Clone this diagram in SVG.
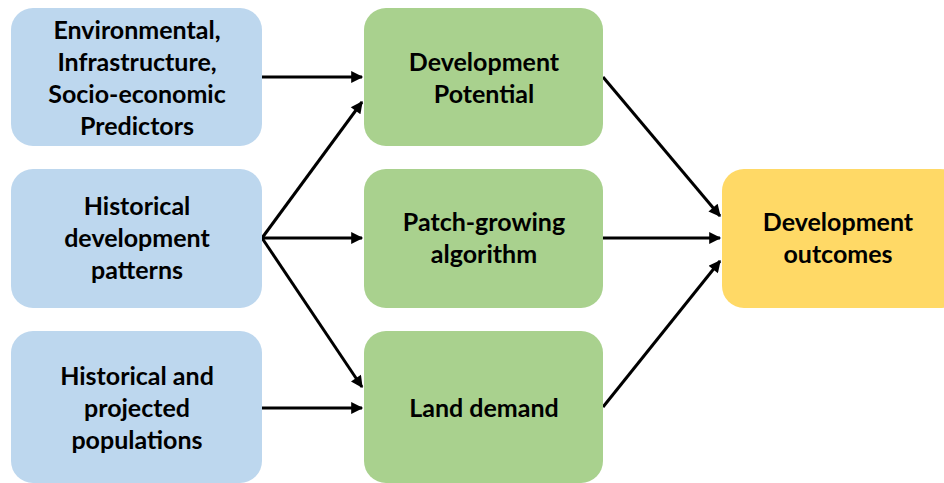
<svg xmlns="http://www.w3.org/2000/svg" width="944" height="483" viewBox="0 0 944 483">
  <style>
    .box { stroke: none; }
    .input { fill: #BDD7EE; }
    .process { fill: #A9D18E; }
    .output { fill: #FFD966; }
    .label { font-family: Lato, "Open Sans", sans-serif; font-weight: bold; font-size: 25px; fill: #000; text-anchor: middle; }
    .link { stroke: #000; stroke-width: 3; fill: none; marker-end: url(#head); }
  </style>
  <defs>
    <marker id="head" viewBox="0 0 10 10" refX="9" refY="5" markerWidth="5" markerHeight="4" markerUnits="strokeWidth" orient="auto">
      <path d="M0,0 L10,5 L0,10 z" fill="#000"/>
    </marker>
  </defs>

  <g id="connectors">
    <line class="link" x1="262" y1="77" x2="362" y2="77"/>
    <line class="link" x1="262" y1="238" x2="362" y2="102"/>
    <line class="link" x1="262" y1="238" x2="362" y2="238"/>
    <line class="link" x1="262" y1="238" x2="362" y2="387"/>
    <line class="link" x1="262" y1="408" x2="362" y2="408"/>
    <line class="link" x1="603" y1="77" x2="720" y2="216"/>
    <line class="link" x1="603" y1="238" x2="720" y2="238"/>
    <line class="link" x1="603" y1="407" x2="720" y2="261"/>
  </g>

  <g id="predictors">
    <rect class="box input" x="11" y="8" width="251" height="138" rx="22"/>
    <text class="label" x="137" y="39">Environmental,</text>
    <text class="label" x="137" y="71">Infrastructure,</text>
    <text class="label" x="137" y="103">Socio-economic</text>
    <text class="label" x="137" y="135">Predictors</text>
  </g>

  <g id="historical-patterns">
    <rect class="box input" x="11" y="169" width="251" height="139" rx="22"/>
    <text class="label" x="137" y="215">Historical</text>
    <text class="label" x="137" y="247">development</text>
    <text class="label" x="137" y="279">patterns</text>
  </g>

  <g id="populations">
    <rect class="box input" x="11" y="331" width="251" height="152" rx="22"/>
    <text class="label" x="137" y="385">Historical and</text>
    <text class="label" x="137" y="417">projected</text>
    <text class="label" x="137" y="449">populations</text>
  </g>

  <g id="development-potential">
    <rect class="box process" x="364" y="8" width="239" height="138" rx="22"/>
    <text class="label" x="484" y="71">Development</text>
    <text class="label" x="484" y="103">Potential</text>
  </g>

  <g id="patch-growing">
    <rect class="box process" x="364" y="169" width="239" height="139" rx="22"/>
    <text class="label" x="484" y="231">Patch-growing</text>
    <text class="label" x="484" y="263">algorithm</text>
  </g>

  <g id="land-demand">
    <rect class="box process" x="364" y="331" width="239" height="152" rx="22"/>
    <text class="label" x="484" y="417">Land demand</text>
  </g>

  <g id="outcomes">
    <rect class="box output" x="722" y="169" width="240" height="139" rx="22"/>
    <text class="label" x="838" y="231">Development</text>
    <text class="label" x="838" y="263">outcomes</text>
  </g>
</svg>
